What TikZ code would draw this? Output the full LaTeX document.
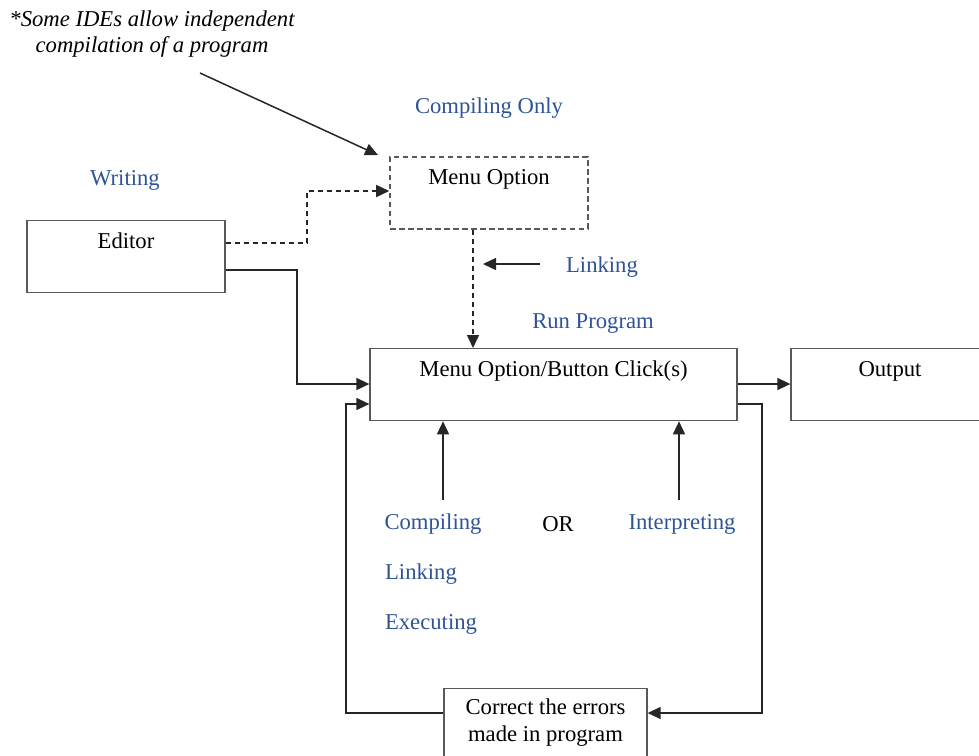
\documentclass[tikz,border=0pt]{standalone}
\usepackage{fontspec}
\setmainfont{Liberation Serif}
\usetikzlibrary{arrows.meta,positioning}
\definecolor{labelblue}{RGB}{47,84,150}

\begin{document}
\begin{tikzpicture}[x=0.02cm,y=-0.02cm,
  font=\fontsize{12.9}{15}\selectfont,
  box/.style={draw=black!65,line width=0.75pt,inner sep=0pt,minimum width=3.96cm,
    text height=0.56cm,text depth=0.88cm,anchor=north},
  note/.style={text=labelblue},
  conn/.style={draw=black!85,line width=0.85pt,-{Triangle[length=2.6mm,width=2.4mm]}},
  dashconn/.style={conn,dash pattern=on 1.1mm off 0.7mm}]
 \useasboundingbox (0,0) rectangle (979,755);

 % boxes
 \node[box] (editor) at (126,220) {Editor};
 \node[box,line width=0.9pt,dash pattern=on 1.1mm off 0.7mm] (menu) at (489,156) {Menu Option};
 \node[box,minimum width=7.34cm] (main) at (553.5,348) {Menu Option/Button Click(s)};
 \node[box] (output) at (890,348) {Output};
 \node[box,minimum width=4.06cm,minimum height=1.36cm,text height=,text depth=,align=center]
   (correct) at (545.5,688) {Correct the errors\\made in program};

 % labels
 \node[font=\fontsize{12.9}{15}\selectfont\itshape,align=center] (remark) at (152,34)
   {*Some IDEs allow independent\\compilation of a program};
 \node[note] (componly) at (489,108) {Compiling Only};
 \node[note] (writing) at (125,180) {Writing};
 \node[note] (link1) at (602,267) {Linking};
 \node[note] (run) at (593,324) {Run Program};
 \node[note] (comp) at (433,524) {Compiling};
 \node (or) at (558,524) {OR};
 \node[note] (interp) at (682,524) {Interpreting};
 \node[note] (link2) at (421,574) {Linking};
 \node[note] (exec) at (431,624) {Executing};

 % free ends
 \coordinate (rs) at (200,73);
 \coordinate (re) at (378,155);
 \coordinate (ls) at (540,264);
 \coordinate (le) at (483,264);
 \coordinate (cu) at (443,500);
 \coordinate (iu) at (679,500);

 % connectors
 \draw[conn] (rs) -- (re);
 \draw[dashconn] ([yshift=-0.46cm]editor.north east) -| (307,191) -- (menu.west |- 0,191);
 \draw[conn] ([yshift=-1cm]editor.north east) -| (297,384) -- (main.west |- 0,384);
 \draw[dashconn] (menu.south -| 473,0) -- (main.north -| 473,0);
 \draw[conn] (ls) -- (le);
 \draw[conn] (cu) -- (cu |- main.south);
 \draw[conn] (iu) -- (iu |- main.south);
 \draw[conn] (main.east |- 0,384) -- (output.west |- 0,384);
 \draw[conn] (main.east |- 0,404) -| (762,713) -- (correct.east |- 0,713);
 \draw[conn] (correct.west |- 0,713) -| (346,404) -- (main.west |- 0,404);
\end{tikzpicture}
\end{document}
